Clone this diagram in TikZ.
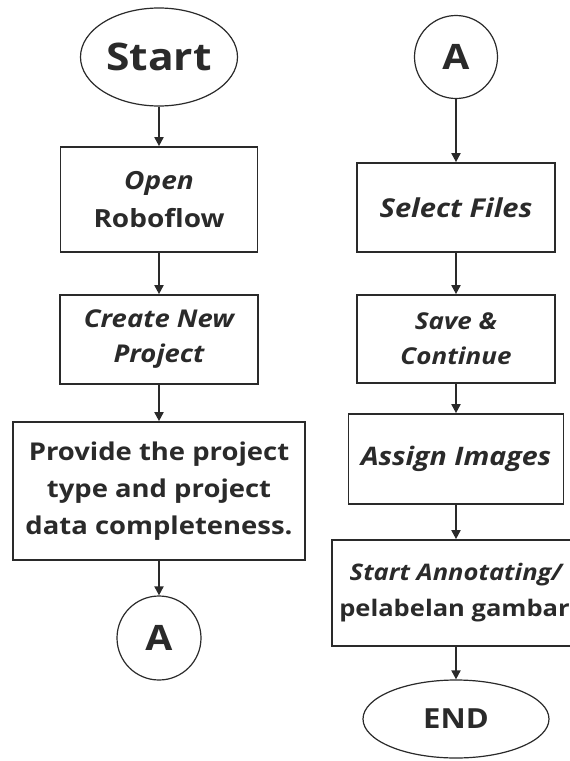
\documentclass[tikz,border=0pt]{standalone}
\usepackage{fontspec}
\setmainfont{Open Sans}[FakeStretch=1.12]
\usetikzlibrary{shapes.geometric,arrows.meta}
\definecolor{ink}{HTML}{2A2A2A}
\begin{document}
\begin{tikzpicture}[x=1pt,y=-1pt,
  every node/.style={text=ink,font=\bfseries},
  box/.style={draw=ink,line width=1.7pt,rectangle,align=center,inner sep=0pt},
  term/.style={draw=ink,line width=1.2pt,ellipse,inner sep=0pt},
  conn/.style={draw=ink,line width=1.2pt,circle,inner sep=0pt},
  flow/.style={draw=ink,line width=1.8pt,-{Triangle[length=9pt,width=9pt]}}]
\useasboundingbox (0,0) rectangle (570,761);
\fill[white] (0,0) rectangle (570,761);
\begin{scope}
\clip (0,0) rectangle (570,761);
% left column
\node[term,minimum width=157pt,minimum height=98pt,font=\bfseries\fontsize{38}{40}\selectfont] (start) at (159,57) {Start};
\node[box,minimum width=197pt,minimum height=105pt,font=\bfseries\fontsize{25}{38}\selectfont] (open) at (159,199.5) {\itshape Open\\Roboflow};
\node[box,minimum width=198pt,minimum height=89pt,font=\bfseries\itshape\fontsize{24.5}{35}\selectfont] (create) at (159,339.5) {Create New\\Project};
\node[box,minimum width=292pt,minimum height=138pt,font=\bfseries\fontsize{24.5}{37}\selectfont] (provide) at (159,491) {Provide the project\\type and project\\data completeness.};
\node[conn,minimum size=84pt,font=\bfseries\fontsize{35}{36}\selectfont] (a1) at (159,638) {A};
% right column
\node[conn,minimum size=83pt,font=\bfseries\fontsize{35}{36}\selectfont] (a2) at (456,57) {A};
\node[box,minimum width=198pt,minimum height=89pt,font=\bfseries\itshape\fontsize{26}{30}\selectfont] (select) at (456,207.5) {Select Files};
\node[box,minimum width=198pt,minimum height=88pt,font=\bfseries\itshape\fontsize{23.2}{35}\selectfont] (save) at (456,339) {Save \&\\Continue};
\node[box,minimum width=215pt,minimum height=90pt,font=\bfseries\itshape\fontsize{25.5}{30}\selectfont] (assign) at (456,459) {Assign Images};
\node[box,minimum width=248pt,minimum height=106pt,font=\bfseries\fontsize{22.8}{36}\selectfont] (annot) at (456,593) {\itshape Start Annotating/\\\hspace*{-3pt}pelabelan gambar};
\node[term,minimum width=186pt,minimum height=78pt,font=\bfseries\fontsize{27.7}{30}\selectfont] (end) at (456,719) {END};
\end{scope}
% connectors
\draw[flow] (start) -- (open);
\draw[flow] (open) -- (create);
\draw[flow] (create) -- (provide);
\draw[flow] (provide) -- (a1);
\draw[flow] (a2) -- (select);
\draw[flow] (select) -- (save);
\draw[flow] (save) -- (assign);
\draw[flow] (assign) -- (annot);
\draw[flow] (annot) -- (end);
\end{tikzpicture}
\end{document}
